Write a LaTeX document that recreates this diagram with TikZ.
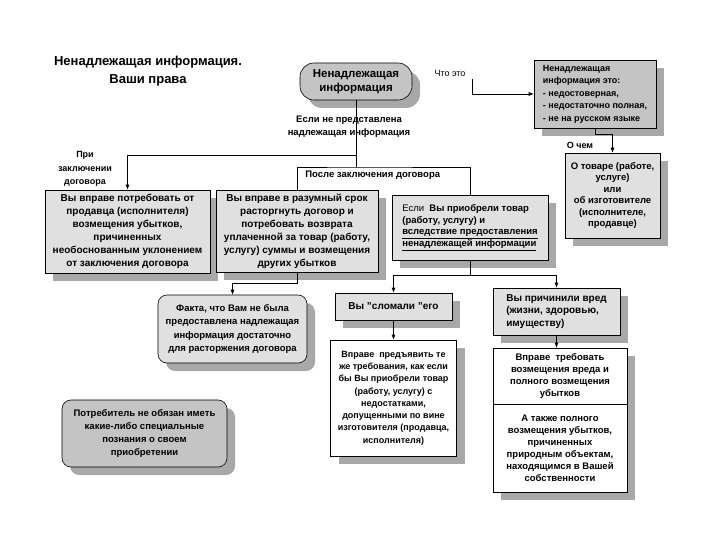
\documentclass[tikz,border=0pt]{standalone}
\usepackage{fontspec}
\setmainfont{Liberation Sans}
\usetikzlibrary{arrows.meta, shadows}

\definecolor{boxlight}{HTML}{E0E0E0}
\definecolor{boxmid}{HTML}{C4C4C4}
\definecolor{boxshade}{HTML}{A8A8A8}

\begin{document}
\begin{tikzpicture}[
    x=1pt, y=-1pt,
    every node/.style = {inner sep=2pt, font=\bfseries\fontsize{10}{12.5}\selectfont},
    box/.style        = {draw, line width=0.6pt, fill=boxlight, align=center,
                         general shadow={fill=boxshade, shadow xshift=8pt, shadow yshift=-8pt}},
    midbox/.style     = {box, fill=boxmid},
    whitebox/.style   = {box, fill=white},
    roundbox/.style   = {box, rounded corners=9pt},
    lbl/.style        = {align=center},
    arr/.style        = {-{Latex[length=5pt,width=4pt]}},
    every path/.style = {line width=0.6pt}
    ]
  \useasboundingbox (0,0) rectangle (720,540);

  % title ------------------------------------------------------
  \node[lbl, font=\bfseries\fontsize{13}{18}\selectfont] (title) at (148,71)
       {Ненадлежащая информация.\\Ваши права};

  % boxes ------------------------------------------------------
  \node[midbox, rounded corners=14pt, minimum width=112pt, minimum height=37pt,
        font=\bfseries\fontsize{11.5}{14}\selectfont] (info) at (356,81.5)
       {Ненадлежащая\\информация};
  \node[midbox, align=left, minimum width=122pt, minimum height=68pt,
        font=\bfseries\fontsize{9}{12.5}\selectfont] (whatis) at (595,94)
       {Ненадлежащая\\информация это:\\- недостоверная,\\- недостаточно полная,\\- не на русском языке};
  \node[box, minimum width=95pt, minimum height=85pt,
        font=\bfseries\fontsize{9.5}{11.5}\selectfont] (about) at (612.5,195.5)
       {О товаре (работе,\\услуге)\\или\\об изготовителе\\(исполнителе,\\продавце)};
  \node[box, minimum width=165pt, minimum height=83pt,
        font=\bfseries\fontsize{10}{13}\selectfont] (before) at (127.5,231.5)
       {Вы вправе потребовать от\\продавца (исполнителя)\\возмещения убытков,\\причиненных\\необоснованным уклонением\\от заключения договора};
  \node[box, minimum width=162pt, minimum height=82pt,
        font=\bfseries\fontsize{10}{13}\selectfont] (cancel) at (297,231)
       {Вы вправе в разумный срок\\расторгнуть договор и\\потребовать возврата\\уплаченной за товар (работу,\\услугу) суммы и возмещения\\других убытков};
  \node[box, align=left, minimum width=156pt, minimum height=65pt,
        font=\bfseries\fontsize{9.5}{11.7}\selectfont] (bought) at (470,227.5)
       {{\mdseries Если}\ \ Вы приобрели товар\\(работу, услугу) и\\\underline{вследствие предоставления}\\\underline{ненадлежащей информации}};
  \node[roundbox, minimum width=149pt, minimum height=68pt,
        font=\bfseries\fontsize{9.5}{13.3}\selectfont] (fact) at (232.5,329)
       {Факта, что Вам не была\\предоставлена надлежащая\\информация достаточно\\для расторжения договора};
  \node[box, minimum width=117pt, minimum height=27pt] (broke) at (393.5,306.5)
       {Вы "сломали "его};
  \node[whitebox, minimum width=126pt, minimum height=116pt,
        font=\bfseries\fontsize{9}{12.3}\selectfont] (sameclaim) at (393.5,398)
       {Вправе\ \ предъявить те\\же требования, как если\\бы Вы приобрели товар\\(работу, услугу) с\\недостатками,\\допущенными по вине\\изготовителя (продавца,\\исполнителя)};
  \node[box, align=left, minimum width=127pt, minimum height=47pt,
        font=\bfseries\fontsize{10}{12.3}\selectfont] (harm) at (556.5,311.5)
       {Вы причинили вред\\(жизни, здоровью,\\имуществу)};
  \node[whitebox, minimum width=134pt, minimum height=56pt,
        font=\bfseries\fontsize{9.5}{12}\selectfont] (harmclaim) at (560,376)
       {Вправе\ \ требовать\\возмещения вреда и\\полного возмещения\\убытков};
  \node[whitebox, minimum width=134pt, minimum height=88pt,
        font=\bfseries\fontsize{9.5}{12}\selectfont] (natureclaim) at (560,448)
       {А также полного\\возмещения убытков,\\причиненных\\природным объектам,\\находящимся в Вашей\\собственности};
  \node[roundbox, fill=boxmid, minimum width=165pt, minimum height=67pt,
        font=\bfseries\fontsize{9.5}{13.3}\selectfont] (nonexpert) at (144.5,433.5)
       {Потребитель не обязан иметь\\какие-либо специальные\\познания о своем\\приобретении};

  % labels -----------------------------------------------------
  \node[lbl, font=\bfseries\fontsize{9.5}{13}\selectfont] (nocond) at (349,127)
       {Если не представлена\\надлежащая информация};
  \node[lbl, font=\bfseries\fontsize{9}{13.5}\selectfont] (whenlbl) at (85,169)
       {При\\заключении\\договора};
  \node[anchor=west, font=\bfseries\fontsize{9.5}{12}\selectfont] (afterlbl) at (303,175)
       {После заключения договора};
  \node[font=\mdseries\fontsize{9}{11}\selectfont] (whatlbl) at (450,73) {Что это};
  \node[font=\bfseries\fontsize{9}{11}\selectfont] (aboutlbl) at (580,145) {О чем};

  \coordinate (split)     at (356,155);
  \coordinate (afterjoin) at (356,167);
  \coordinate (whatstart) at (472,79);

  % edges ------------------------------------------------------
  \draw (info) -- (afterjoin);
  \draw[arr] (split) -| (before.north);
  \draw (cancel.north) |- (afterjoin) -| (bought.north);
  \draw[arr] (cancel.south) -- ++(0,11) -| (fact.north);
  \draw (bought.south) -- ++(0,15) coordinate (fork);
  \draw[arr] (fork) -| (broke.north);
  \draw[arr] (fork) -| (harm.north);
  \draw[arr] (broke) -- (sameclaim);
  \draw[arr] (harm.south) -- (harm.south |- harmclaim.north);
  \draw[arr] (whatstart) |- (whatis.west);
  \draw[arr] (whatis.south) -- ++(0,6) -| (about.north);
\end{tikzpicture}
\end{document}
